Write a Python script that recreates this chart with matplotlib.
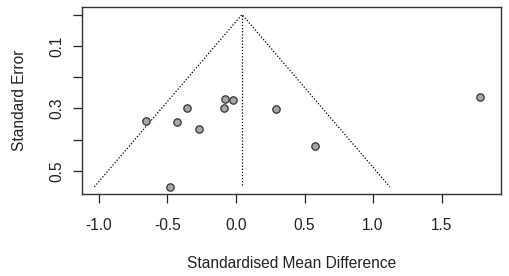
import matplotlib
matplotlib.use("Agg")
import matplotlib.pyplot as plt
import numpy as np

plt.rcParams['font.family'] = ['Liberation Sans', 'DejaVu Sans']

smd = [-0.659, -0.431, -0.355, -0.270, -0.088, -0.080, -0.022, -0.480, 0.290, 0.577, 1.781]
se = [0.339, 0.342, 0.298, 0.367, 0.298, 0.270, 0.272, 0.552, 0.301, 0.419, 0.263]
pooled = 0.044
se_max = 0.55
xticks = [-1.0, -0.5, 0.0, 0.5, 1.0, 1.5]
xtick_labels = ["-1.0", "-0.5", "0.0", "0.5", "1.0", "1.5"]
yticks = [0.0, 0.1, 0.2, 0.3, 0.4, 0.5]
ytick_labels = ["", "0.1", "", "0.3", "", "0.5"]

fig = plt.figure(figsize=(5.1, 2.76), dpi=100)
ax = fig.add_axes([82/510, 1-194/276, (501-82)/510, (194-7)/276])

ax.plot([pooled - 1.96*se_max, pooled, pooled + 1.96*se_max], [se_max, 0, se_max],
        color='black', linestyle=(0, (1, 1.5)), linewidth=0.9)
ax.plot([pooled, pooled], [0, se_max], color='black', linestyle=(0, (1, 1.5)), linewidth=0.9)
ax.scatter(smd, se, s=28, facecolor='#a6a6a6', edgecolor='#333333', linewidth=0.9, zorder=3)

ax.set_xlim(-1.124, 1.934)
ax.set_ylim(0.573, -0.024)
ax.set_xticks(xticks)
ax.set_xticklabels(xtick_labels)
ax.set_yticks(yticks)
ax.set_yticklabels(ytick_labels, rotation=90, va='center')
ax.tick_params(axis='both', direction='out', length=6.5, width=0.9, labelsize=11.2, colors='#222222')
ax.tick_params(axis='x', pad=11)
ax.tick_params(axis='y', pad=6)
for s in ax.spines.values():
    s.set_linewidth(1.0)
    s.set_color('#333333')
ax.set_xlabel("Standardised Mean Difference", fontsize=11.2, labelpad=16, color='#222222')
ax.set_ylabel("Standard Error", fontsize=11.2, labelpad=16, color='#222222')

fig.savefig("out.png", dpi=100)
